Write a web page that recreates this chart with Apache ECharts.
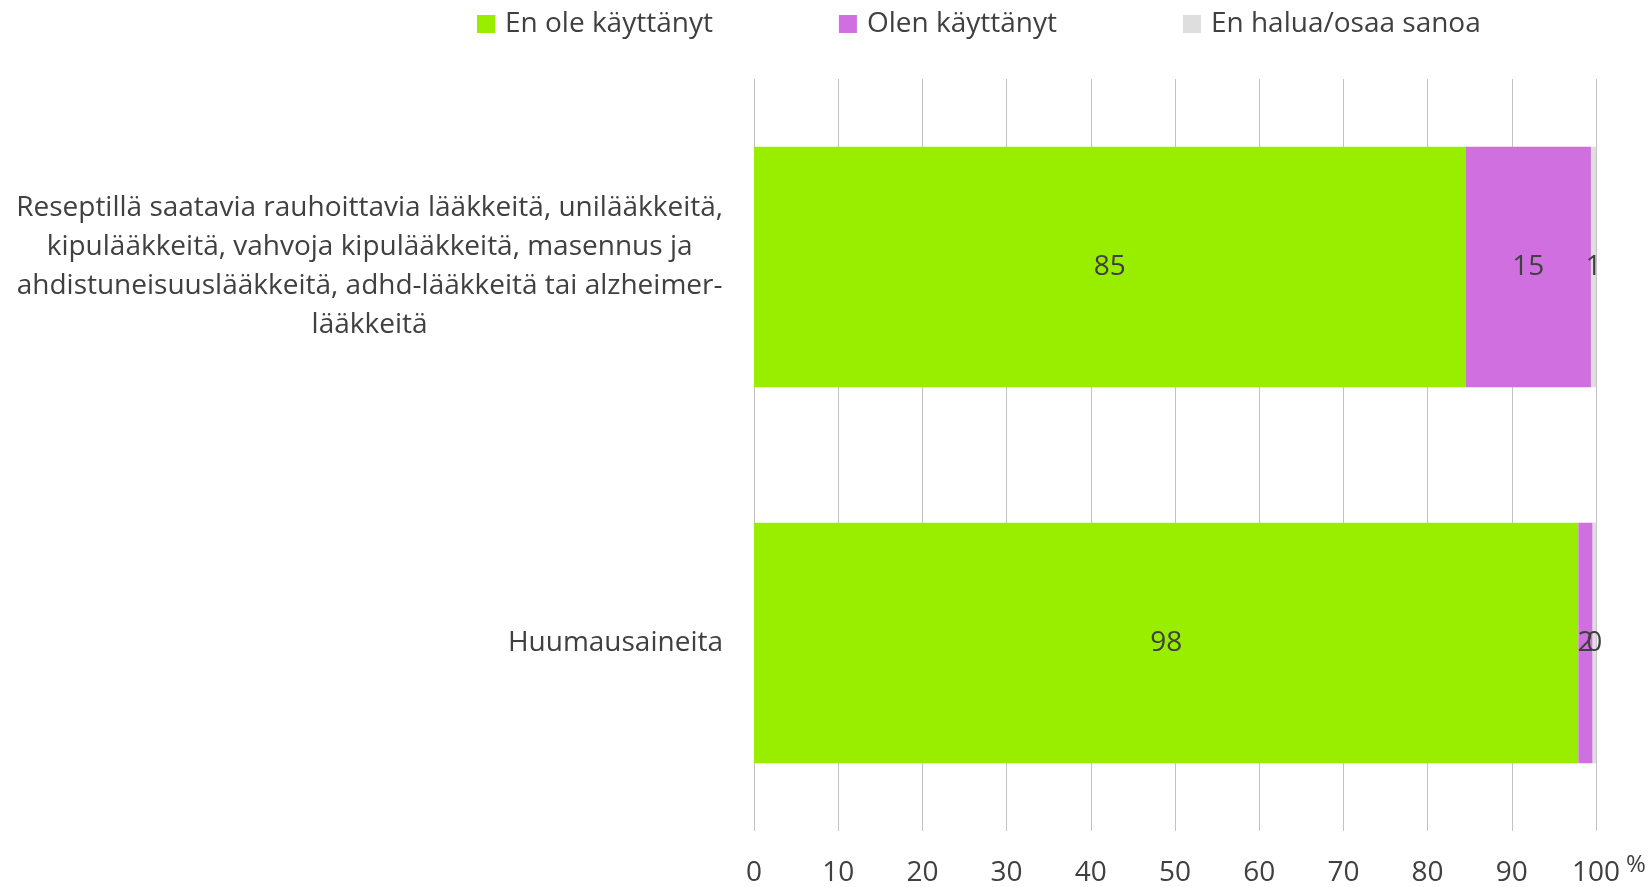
<!DOCTYPE html>
<html>
<head>
<meta charset="utf-8">
<script src="https://cdn.jsdelivr.net/npm/echarts@6/dist/echarts.min.js"></script>
<style>
html,body{margin:0;padding:0;background:#fff;}
#chart{width:1652px;height:887px;}
</style>
</head>
<body>
<div id="chart"></div>
<script>
// kategoriat (rivitys kuten alkuperäisessä)
var categories = [
	"Reseptillä saatavia rauhoittavia lääkkeitä, unilääkkeitä,\nkipulääkkeitä, vahvoja kipulääkkeitä, masennus ja\nahdistuneisuuslääkkeitä, adhd-lääkkeitä tai alzheimer-\nlääkkeitä",
	"Huumausaineita"
];
var seriesNames = ["En ole käyttänyt", "Olen käyttänyt", "En halua/osaa sanoa"];
var enOle = [84.5, 97.9];
var olen = [14.9, 1.7];
var enHalua = [0.6, 0.4];
var xTicks = [0, 10, 20, 30, 40, 50, 60, 70, 80, 90, 100];

var colors = ['#99ee00', '#d070e0', '#dedede'];
var textColor = '#404040';
var font = 'Open Sans';
var fs = 28;

function bar(name, data, i){
	return {
		name: name,
		type: 'bar',
		stack: 'total',
		barCategoryGap: '36%',
		data: data,
		itemStyle: {color: colors[i]},
		label: {
			show: true,
			position: 'inside',
			color: textColor,
			fontFamily: font,
			fontSize: fs,
			formatter: function(p){ return Math.round(p.value); }
		}
	};
}

var myChart = echarts.init(document.getElementById('chart'));
var option = {
	backgroundColor: '#fff',
	animation: false,
	textStyle: {fontFamily: font},
	legend: {
		top: 10,
		left: 477,
		padding: 0,
		itemWidth: 18,
		itemHeight: 18,
		itemGap: 126,
		icon: 'rect',
		data: seriesNames,
		textStyle: {color: textColor, fontFamily: font, fontSize: fs, padding: [0, 0, 0, 5]}
	},
	grid: {left: 754, right: 56, top: 79, bottom: 55, containLabel: false},
	xAxis: {
		type: 'value',
		min: 0,
		max: 100,
		interval: 10,
		name: '%',
		nameLocation: 'end',
		nameGap: 28,
		nameTextStyle: {color: textColor, fontFamily: font, fontSize: 24, verticalAlign: 'top', padding: [22, 0, 0, 0]},
		axisLine: {show: false},
		axisTick: {show: false},
		axisLabel: {
			color: textColor,
			fontFamily: font,
			fontSize: fs,
			margin: 28,
			formatter: function(v){ return xTicks.indexOf(v) >= 0 ? String(v) : ''; }
		},
		splitLine: {show: true, lineStyle: {color: '#c3c3c3', width: 1}}
	},
	yAxis: {
		type: 'category',
		inverse: true,
		data: categories,
		axisLine: {show: false},
		axisTick: {show: false},
		axisLabel: {
			margin: 31,
			color: textColor,
			fontFamily: font,
			fontSize: fs,
			lineHeight: 39,
			formatter: function(v){
				return v.split('\n').map(function(s){ return '{c|' + s + '}'; }).join('\n');
			},
			rich: {
				c: {align: 'center', color: textColor, fontFamily: font, fontSize: fs, lineHeight: 39}
			}
		}
	},
	series: [
		bar(seriesNames[0], enOle, 0),
		bar(seriesNames[1], olen, 1),
		bar(seriesNames[2], enHalua, 2)
	]
};
myChart.setOption(option);
</script>
</body>
</html>
